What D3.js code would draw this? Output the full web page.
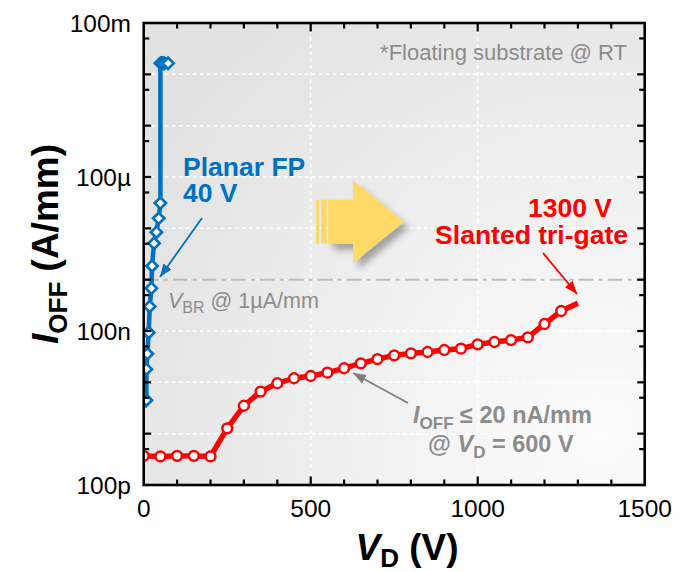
<!DOCTYPE html>
<html>
<head>
<meta charset="utf-8">
<script src="https://cdn.jsdelivr.net/npm/d3@7"></script>
<style>
  html, body { margin: 0; padding: 0; background: #fff; }
  svg { display: block; font-family: "Liberation Sans", Arial, Helvetica, sans-serif; }
</style>
</head>
<body>
<svg id="chart" width="684" height="572"></svg>
<script>
// Off-state leakage vs drain voltage
const xMinorTicks = d3.range(0, 1501, 100);
const xMajorTicks = [0, 500, 1000, 1500];
const yDecadeTicks = [1e-10, 1e-9, 1e-8, 1e-7, 1e-6, 1e-5, 1e-4, 1e-3, 1e-2, 1e-1];
const yHalfTicks = [5e-10, 5e-9, 5e-8, 5e-7, 5e-6, 5e-5, 5e-4, 5e-3, 5e-2];
const yLabelTicks = [1e-10, 1e-7, 1e-4, 1e-1];
const yLabelText = ["100p", "100n", "100\u00b5", "100m"];

// Slanted tri-gate device (red)
const slantedV = [0, 50, 100, 150, 200, 250, 300, 350, 400, 450, 500, 550, 600, 650,
  700, 750, 800, 850, 900, 950, 1000, 1050, 1100, 1150, 1200, 1250, 1300];
const slantedI = [3.7e-10, 3.6e-10, 3.7e-10, 3.7e-10, 3.6e-10, 1.27e-9, 3.5e-9, 6.6e-9,
  9.6e-9, 1.2e-8, 1.33e-8, 1.54e-8, 1.88e-8, 2.35e-8, 2.84e-8, 3.36e-8, 3.67e-8, 3.9e-8,
  4.26e-8, 4.52e-8, 5.5e-8, 6.1e-8, 6.67e-8, 7.53e-8, 1.37e-7, 2.45e-7, 3.46e-7];

// Planar field-plate device (blue)
const planarV = [0, 8, 8, 11, 15, 18, 23, 25, 31, 38, 45, 50, 50, 54, 58, 62, 73];
const planarI = [3.3e-9, 4.5e-9, 1.8e-8, 3.6e-8, 9.3e-8, 3.0e-7, 6.8e-7, 1.85e-6, 5.1e-6,
  8.4e-6, 1.57e-5, 3.1e-5, 1.64e-2, 1.64e-2, 1.64e-2, 1.64e-2, 1.64e-2];

const breakdownLevel = 1e-6;

const svg = d3.select("#chart");
const pLeft = 143.7, pRight = 644.7, pTop = 23, pBottom = 485;
const x = d3.scaleLinear().domain([0, 1500]).range([pLeft, pRight]);
const y = d3.scaleLog().domain([1e-10, 1e-1]).range([pBottom, pTop]);

const defs = svg.append("defs");
const bg = defs.append("radialGradient").attr("id", "bgGrad")
  .attr("gradientUnits", "userSpaceOnUse")
  .attr("cx", 600).attr("cy", 430).attr("r", 520);
bg.append("stop").attr("offset", "0").attr("stop-color", "#fcfcfc");
bg.append("stop").attr("offset", "0.55").attr("stop-color", "#eeeeee");
bg.append("stop").attr("offset", "1").attr("stop-color", "#e2e2e2");

defs.append("clipPath").attr("id", "plotClip").append("rect")
  .attr("x", pLeft).attr("y", pTop).attr("width", pRight - pLeft).attr("height", pBottom - pTop);

const shadow = defs.append("filter").attr("id", "arrowShadow")
  .attr("x", "-30%").attr("y", "-30%").attr("width", "170%").attr("height", "170%");
shadow.append("feDropShadow").attr("dx", 5).attr("dy", 6).attr("stdDeviation", 3.5)
  .attr("flood-color", "#000").attr("flood-opacity", 0.33);

function arrowMarker(id, color, w, h) {
  defs.append("marker").attr("id", id)
    .attr("viewBox", `0 0 ${w} ${h}`).attr("refX", w).attr("refY", h / 2)
    .attr("markerUnits", "userSpaceOnUse")
    .attr("markerWidth", w).attr("markerHeight", h).attr("orient", "auto")
    .append("path").attr("d", `M0,0 L${w},${h / 2} L0,${h} Z`).attr("fill", color);
}
arrowMarker("headRed", "#ff0000", 13, 10);
arrowMarker("headBlue", "#0070c0", 13, 10);
arrowMarker("headGray", "#808080", 13, 10);

// plot background
svg.append("rect").attr("x", pLeft).attr("y", pTop)
  .attr("width", pRight - pLeft).attr("height", pBottom - pTop).attr("fill", "url(#bgGrad)");

// grid
const grid = svg.append("g").attr("stroke", "#ffffff").attr("stroke-width", 1.5)
  .attr("stroke-dasharray", "4,3");
grid.selectAll("line.h").data(yDecadeTicks.slice(1, -1)).join("line")
  .attr("x1", pLeft).attr("x2", pRight).attr("y1", d => y(d)).attr("y2", d => y(d));
grid.selectAll("line.v").data(xMajorTicks.slice(1, -1)).join("line")
  .attr("y1", pTop).attr("y2", pBottom).attr("x1", d => x(d)).attr("x2", d => x(d));

// breakdown criterion line
svg.append("line").attr("x1", pLeft).attr("x2", pRight)
  .attr("y1", y(breakdownLevel)).attr("y2", y(breakdownLevel))
  .attr("stroke", "#bdbdbd").attr("stroke-width", 2).attr("stroke-dasharray", "15,5,4,5");

// yellow direction arrow
const ax = x(516), ay = y(1.35e-5);
const yArrow = svg.append("g").attr("transform", `translate(${ax},${ay})`);
yArrow.append("path")
  .attr("d", "M12,-22 L37,-22 L37,-41.5 L88,0 L37,41.5 L37,22 L12,22 Z")
  .attr("fill", "#ffd966").attr("filter", "url(#arrowShadow)");
yArrow.append("rect").attr("x", 0).attr("y", -22).attr("width", 3).attr("height", 44).attr("fill", "#ffd966");
yArrow.append("rect").attr("x", 5).attr("y", -22).attr("width", 5.5).attr("height", 44).attr("fill", "#ffd966");

// series
const plot = svg.append("g").attr("clip-path", "url(#plotClip)");
const line = d3.line().x(d => x(d[0])).y(d => y(d[1]));

const planar = planarV.map((v, i) => [v, planarI[i]]);
const slanted = slantedV.map((v, i) => [v, slantedI[i]]);

plot.append("path").datum(planar).attr("d", line)
  .attr("fill", "none").attr("stroke", "#0070c0").attr("stroke-width", 4.6)
  .attr("stroke-linejoin", "round");
plot.selectAll("path.dia").data(planar.slice(1)).join("path").attr("class", "dia")
  .attr("transform", d => `translate(${x(d[0])},${y(d[1])})`)
  .attr("d", "M0,-5.6 L5.6,0 L0,5.6 L-5.6,0 Z")
  .attr("fill", "#fff").attr("stroke", "#0070c0").attr("stroke-width", 2.7)
  .attr("stroke-linejoin", "miter");

plot.append("path").datum(slanted).attr("d", line)
  .attr("fill", "none").attr("stroke", "#ff0000").attr("stroke-width", 5.4)
  .attr("stroke-linejoin", "round");
plot.selectAll("circle.pt").data(slanted.slice(0, -1)).join("circle").attr("class", "pt")
  .attr("cx", d => x(d[0])).attr("cy", d => y(d[1])).attr("r", 4.9)
  .attr("fill", "#fff").attr("stroke", "#ff0000").attr("stroke-width", 2.5);

// frame and ticks (all inward)
const frame = svg.append("g").attr("stroke", "#000").attr("stroke-width", 2.6).attr("fill", "none");
frame.append("rect").attr("x", pLeft).attr("y", pTop).attr("width", pRight - pLeft).attr("height", pBottom - pTop);
const ticks = svg.append("g").attr("stroke", "#000").attr("stroke-width", 2.2);
const xTickLen = v => (v % 500 === 0 ? 8.5 : 5.5);
xMinorTicks.slice(1, -1).forEach(v => {
  ticks.append("line").attr("x1", x(v)).attr("x2", x(v)).attr("y1", pBottom).attr("y2", pBottom - xTickLen(v));
  ticks.append("line").attr("x1", x(v)).attr("x2", x(v)).attr("y1", pTop).attr("y2", pTop + xTickLen(v));
});
const yTicksAll = yDecadeTicks.slice(1, -1).map(v => [v, 7.5]).concat(yHalfTicks.map(v => [v, 5.5]));
yTicksAll.forEach(([v, len]) => {
  ticks.append("line").attr("y1", y(v)).attr("y2", y(v)).attr("x1", pLeft).attr("x2", pLeft + len);
  ticks.append("line").attr("y1", y(v)).attr("y2", y(v)).attr("x1", pRight).attr("x2", pRight - len);
});

// tick labels
svg.append("g").selectAll("text").data(xMajorTicks).join("text")
  .attr("x", d => x(d)).attr("y", 517).attr("text-anchor", "middle")
  .attr("font-size", 24.5).attr("fill", "#000").text(d => d);
svg.append("g").selectAll("text").data(yLabelTicks).join("text")
  .attr("x", 131).attr("y", d => y(d)).attr("dy", "0.36em").attr("text-anchor", "end")
  .attr("font-size", 24.5).attr("fill", "#000").text((d, i) => yLabelText[i]);

// axis titles
const xt = svg.append("text").attr("x", 407).attr("y", 560).attr("text-anchor", "middle")
  .attr("font-size", 37).attr("font-weight", "bold").attr("fill", "#000");
xt.append("tspan").attr("font-style", "italic").text("V");
xt.append("tspan").attr("font-size", 26).attr("dy", 7).text("D");
xt.append("tspan").attr("dy", -7).text(" (V)");

const yt = svg.append("text").attr("transform", "translate(58,244) rotate(-90)")
  .attr("text-anchor", "middle").attr("font-size", 37).attr("font-weight", "bold").attr("fill", "#000");
yt.append("tspan").attr("font-style", "italic").text("I");
yt.append("tspan").attr("font-size", 26).attr("dy", 9).text("OFF");
yt.append("tspan").attr("dy", -9).text(" (A/mm)");

// annotations
svg.append("text").attr("x", 627).attr("y", 60).attr("text-anchor", "end")
  .attr("font-size", 22).attr("fill", "#8c8c8c").text("*Floating substrate @ RT");

const blueLbl = svg.append("g").attr("fill", "#0070c0").attr("font-weight", "bold").attr("font-size", 26.5);
blueLbl.append("text").attr("x", 183).attr("y", 176).text("Planar FP");
blueLbl.append("text").attr("x", 183).attr("y", 202).text("40 V");
svg.append("line").attr("x1", 202).attr("y1", 218).attr("x2", 160).attr("y2", 277)
  .attr("stroke", "#0070c0").attr("stroke-width", 1.8).attr("marker-end", "url(#headBlue)");

const redLbl = svg.append("g").attr("fill", "#ff0000").attr("font-weight", "bold").attr("font-size", 26.5);
redLbl.append("text").attr("x", 612).attr("y", 217).attr("text-anchor", "end").text("1300 V");
redLbl.append("text").attr("x", 628).attr("y", 244).attr("text-anchor", "end").text("Slanted tri-gate");
svg.append("line").attr("x1", 543).attr("y1", 253).attr("x2", 577).attr("y2", 294)
  .attr("stroke", "#ff0000").attr("stroke-width", 1.8).attr("marker-end", "url(#headRed)");

const vbr = svg.append("text").attr("x", 168).attr("y", 308).attr("font-size", 21.5).attr("fill", "#8c8c8c");
vbr.append("tspan").attr("font-style", "italic").text("V");
vbr.append("tspan").attr("font-size", 16).attr("dy", 5).text("BR");
vbr.append("tspan").attr("dy", -5).text(" @ 1\u00b5A/mm");

const grayLbl = svg.append("g").attr("fill", "#8c8c8c").attr("font-weight", "bold").attr("font-size", 23.5);
const g1 = grayLbl.append("text").attr("x", 413).attr("y", 423);
g1.append("tspan").attr("font-style", "italic").text("I");
g1.append("tspan").attr("font-size", 17).attr("dy", 6).text("OFF");
g1.append("tspan").attr("dy", -6).text(" \u2264 20 nA/mm");
const g2 = grayLbl.append("text").attr("x", 428).attr("y", 452);
g2.append("tspan").text("@ ");
g2.append("tspan").attr("font-style", "italic").text("V");
g2.append("tspan").attr("font-size", 17).attr("dy", 6).text("D");
g2.append("tspan").attr("dy", -6).text(" = 600 V");
svg.append("line").attr("x1", 408).attr("y1", 403).attr("x2", 353).attr("y2", 373)
  .attr("stroke", "#808080").attr("stroke-width", 1.8).attr("marker-end", "url(#headGray)");
</script>
</body>
</html>
